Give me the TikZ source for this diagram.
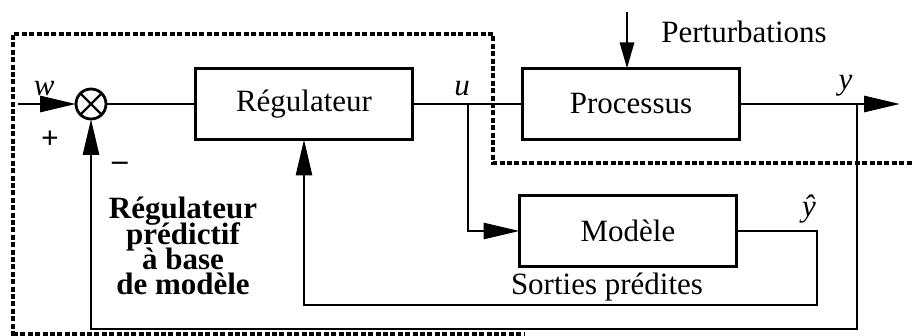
\documentclass[tikz,border=0pt]{standalone}
\usepackage{fontspec}
\setmainfont{Liberation Serif}
\usetikzlibrary{arrows.meta}

\begin{document}
\begin{tikzpicture}[x=0.5pt,y=-0.5pt,>={Triangle[length=18pt,width=8pt]},line width=1.4pt,
    every node/.style={font=\fontsize{15.5}{18.6}\selectfont},
    block/.style={draw,rectangle,line width=1.5pt,minimum width=108.5pt,minimum height=35.5pt,outer sep=0pt},
    sum/.style={draw,circle,minimum size=15pt,inner sep=0pt,outer sep=0pt},
    frame/.style={dash pattern=on 2.5pt off 1.2pt,line width=1.6pt}]

        \useasboundingbox (0,0) rectangle (914,336);

        \node[sum]   (S)                                      at (91,104) {};
        \node[block] (R) [right of=S, node distance=106.5pt]  {Régulateur};
        \node[block] (P) [right of=R, node distance=163.5pt]  {Processus};
        \node[block] (M) [below of=P, node distance=63.5pt, xshift=-1.5pt] {Modèle};

        % croix du comparateur
        \draw[line width=1.1pt] (S.north west) -- (S.south east) (S.north east) -- (S.south west);

        \coordinate (W) at (18,104);
        \coordinate (U) at (468,104);
        \coordinate (D) at (627,12);
        \coordinate (Y) at (900,104);
        \coordinate (B) at (857,104);
        \coordinate (L) at (817,305);
        \coordinate (F) at (857,329);

        \draw[->] (W) -- node[above,pos=0.45] {\textit{w}} (S);
        \draw (S) -- (R);
        \draw (R) -- node[above,pos=0.45] {\textit{u}} (P);
        \draw[->] (U) |- (M.west);
        \draw[->,>={Triangle[length=13pt,width=7pt]}] (D) -- (D |- P.north);
        \draw[->] (P) -- node[above,pos=0.66] {\textit{y}} (Y);
        \draw[->] (B) |- (F) -| (S.south);
        \draw[->] (M.east) -| node[above,pos=0.45] {\textit{ŷ}} (L) -| (R.south);

        \node (plus)  at (50,140)  {\textbf{+}};
        \node (moins) at (120,166) {\textbf{–}};
        \node (pert)  at (744,32)  {Perturbations};
        \node (sort)  at (607,287) {Sorties prédites};
        \node[align=center,font=\fontsize{15.5}{18.6}\selectfont\bfseries] (mpc) at (183,246)
            {Régulateur\\[-6pt] prédictif\\[-6pt] à base\\[-6pt] de modèle};

        % cadre en pointillés
        \draw[frame] (13,336) -- (13,34) -- (493,34) -- (493,163) -- (914,163);
        \draw[frame] (13,334) -- (525,334);

\end{tikzpicture}
\end{document}
